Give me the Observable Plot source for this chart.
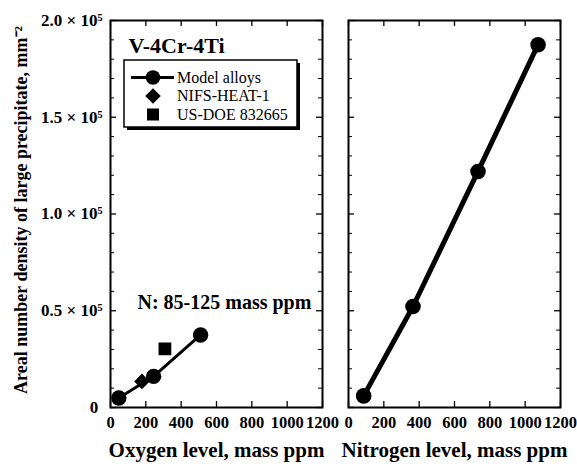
<!DOCTYPE html>
<html><head><meta charset="utf-8">
<script src="https://cdn.jsdelivr.net/npm/d3@7"></script>
<script src="https://cdn.jsdelivr.net/npm/@observablehq/plot@0.6"></script>
<style>
body{margin:0;background:#fff;}
#wrap{position:relative;width:577px;height:464px;overflow:hidden;}
#wrap > svg{position:absolute;top:0;}
</style></head><body><div id="wrap"></div>
<script>
// ---- data ----
const oxygenModel = [47, 244, 510];
const oxygenModelDensity = [4900, 16100, 37500];
const nifsOxygen = [178];
const nifsDensity = [13500];
const usdoeOxygen = [308];
const usdoeDensity = [30300];
const nitrogenModel = [86, 365, 733, 1073];
const nitrogenModelDensity = [6000, 52200, 122000, 187500];
const xTicks = [0, 200, 400, 600, 800, 1000, 1200];
const xTickLabels = ["0", "200", "400", "600", "800", "1000", "1200"];
const yMajorTicks = [0, 50000, 100000, 150000, 200000];
const yTickLabels = ["0\u2008", "0.5 \u00d7 10\u2075", "1.0 \u00d7 10\u2075", "1.5 \u00d7 10\u2075", "2.0 \u00d7 10\u2075"];
const yMinorTicks = [10000, 20000, 30000, 40000, 60000, 70000, 80000, 90000, 110000, 120000, 130000, 140000, 160000, 170000, 180000, 190000];
const legendNames = ["Model alloys", "NIFS-HEAT-1", "US-DOE 832665"];
const legendSymbols = ["circle", "diamond2", "square"];
const xLabelO = "Oxygen level, mass ppm";
const xLabelN = "Nitrogen level, mass ppm";
const yLabel = "Areal number density of large precipitate, mm\u207b\u00b2";
const titleText = "V-4Cr-4Ti";
const noteText = "N: 85-125 mass ppm";

const FONT = '"Liberation Serif","Times New Roman",serif';
const H = 464, MT = 20, MB = 57;
const frameH = H - MT - MB;

const zip = (xs, ys) => xs.map((x, i) => ({x, y: ys[i]}));
const oModel = zip(oxygenModel, oxygenModelDensity);
const nifs = zip(nifsOxygen, nifsDensity);
const usdoe = zip(usdoeOxygen, usdoeDensity);
const nModel = zip(nitrogenModel, nitrogenModelDensity);

function tickMarks(frameW) {
  return [
    Plot.tickX(xTicks, {x: d => d, insetTop: frameH - 6, strokeWidth: 1.3}),
    Plot.tickX(xTicks, {x: d => d, insetBottom: frameH - 6, strokeWidth: 1.3}),
    Plot.tickY(yMajorTicks, {y: d => d, insetRight: frameW - 6, strokeWidth: 1.3}),
    Plot.tickY(yMajorTicks, {y: d => d, insetLeft: frameW - 6, strokeWidth: 1.3}),
    Plot.tickY(yMinorTicks, {y: d => d, insetRight: frameW - 4, strokeWidth: 1}),
    Plot.tickY(yMinorTicks, {y: d => d, insetLeft: frameW - 4, strokeWidth: 1}),
    Plot.text(xTicks, {x: d => d, text: d => xTickLabels[xTicks.indexOf(d)], frameAnchor: "bottom",
      lineAnchor: "bottom", textAnchor: "middle", dy: 20, fontSize: 16.5, fontWeight: "bold", fontFamily: FONT})
  ];
}

const baseStyle = {fontFamily: FONT, fontWeight: "bold", fontSize: "16px", background: "transparent", overflow: "visible", color: "black"};

// ---- left panel ----
const L = {width: 335, ml: 110, mr: 13};
const leftW = L.width - L.ml - L.mr;
const left = Plot.plot({
  width: L.width, height: H,
  marginLeft: L.ml, marginRight: L.mr, marginTop: MT, marginBottom: MB,
  x: {domain: [0, 1200], axis: null},
  y: {domain: [0, 200000], axis: null},
  style: baseStyle,
  marks: [
    ...tickMarks(leftW),
    Plot.text(yMajorTicks, {y: d => d, text: d => yTickLabels[yMajorTicks.indexOf(d)], frameAnchor: "left",
      textAnchor: "end", lineAnchor: "middle", dx: -8, fontSize: 17, fontWeight: "bold", fontFamily: FONT}),
    Plot.line(oModel, {x: "x", y: "y", stroke: "black", strokeWidth: 3}),
    Plot.dot(oModel, {x: "x", y: "y", r: 7.7, fill: "black", stroke: "none"}),
    Plot.dot(nifs, {x: "x", y: "y", r: 7, symbol: "diamond2", fill: "black", stroke: "none"}),
    Plot.dot(usdoe, {x: "x", y: "y", r: 7.2, symbol: "square", fill: "black", stroke: "none"}),
    Plot.frame({stroke: "black", strokeWidth: 2}),
    Plot.text([titleText], {text: d => d, frameAnchor: "top-left", textAnchor: "start", lineAnchor: "bottom", dx: 18, dy: 32, fontSize: 22, fontWeight: "bold", fontFamily: FONT}),
    Plot.text([noteText], {text: d => d, frameAnchor: "top-left", textAnchor: "start", lineAnchor: "bottom", dx: 27, dy: 288, fontSize: 20, fontWeight: "bold", fontFamily: FONT}),
    Plot.text([xLabelO], {text: d => d, frameAnchor: "bottom", textAnchor: "middle", lineAnchor: "bottom", dy: 49, fontSize: 21, fontWeight: "bold", fontFamily: FONT}),
    Plot.text([yLabel], {text: d => d, frameAnchor: "left", textAnchor: "middle", lineAnchor: "middle", rotate: -90, dx: -89, dy: -4, fontSize: 18, fontWeight: "bold", fontFamily: FONT})
  ]
});
left.style.left = "0px";

// ---- right panel ----
const R = {left: 335, width: 242, ml: 13, mr: 17};
const rightW = R.width - R.ml - R.mr;
const right = Plot.plot({
  width: R.width, height: H,
  marginLeft: R.ml, marginRight: R.mr, marginTop: MT, marginBottom: MB,
  x: {domain: [0, 1200], axis: null},
  y: {domain: [0, 200000], axis: null},
  style: baseStyle,
  marks: [
    ...tickMarks(rightW),
    Plot.line(nModel, {x: "x", y: "y", stroke: "black", strokeWidth: 5}),
    Plot.dot(nModel, {x: "x", y: "y", r: 7.8, fill: "black", stroke: "none"}),
    Plot.frame({stroke: "black", strokeWidth: 2}),
    Plot.text([xLabelN], {text: d => d, frameAnchor: "bottom", textAnchor: "middle", lineAnchor: "bottom", dy: 49, fontSize: 21, fontWeight: "bold", fontFamily: FONT})
  ]
});
right.style.left = R.left + "px";

const wrap = document.getElementById("wrap");
wrap.appendChild(left);
wrap.appendChild(right);

// ---- legend (drawn over the left panel) ----
const lg = d3.select(wrap).append("svg")
  .attr("width", 577).attr("height", 464)
  .style("left", "0px").style("pointer-events", "none");
const box = {x: 124, y: 60, w: 173, h: 67};
lg.append("rect").attr("x", box.x + 3).attr("y", box.y + 3).attr("width", box.w).attr("height", box.h).attr("fill", "black");
lg.append("rect").attr("x", box.x).attr("y", box.y).attr("width", box.w).attr("height", box.h)
  .attr("fill", "white").attr("stroke", "black").attr("stroke-width", 1.5);
const rowY = [77.5, 96, 114.5];
const symSize = {circle: Math.PI * 7.3 * 7.3, diamond2: Math.PI * 7 * 7, square: Math.PI * 6.8 * 6.8};
const symType = {circle: d3.symbolCircle, diamond2: d3.symbolDiamond2, square: d3.symbolSquare};
legendNames.forEach((name, i) => {
  const y = rowY[i];
  const s = legendSymbols[i];
  if (s === "circle") {
    lg.append("line").attr("x1", 131).attr("x2", 174).attr("y1", y).attr("y2", y).attr("stroke", "black").attr("stroke-width", 3);
  }
  lg.append("path").attr("transform", `translate(153,${y})`)
    .attr("d", d3.symbol(symType[s], symSize[s])()).attr("fill", "black");
  lg.append("text").attr("x", 177).attr("y", y).attr("dy", "0.34em")
    .style("font-family", FONT).style("font-size", "16px").style("font-weight", "normal").attr("fill", "black").text(name);
});
</script></body></html>
